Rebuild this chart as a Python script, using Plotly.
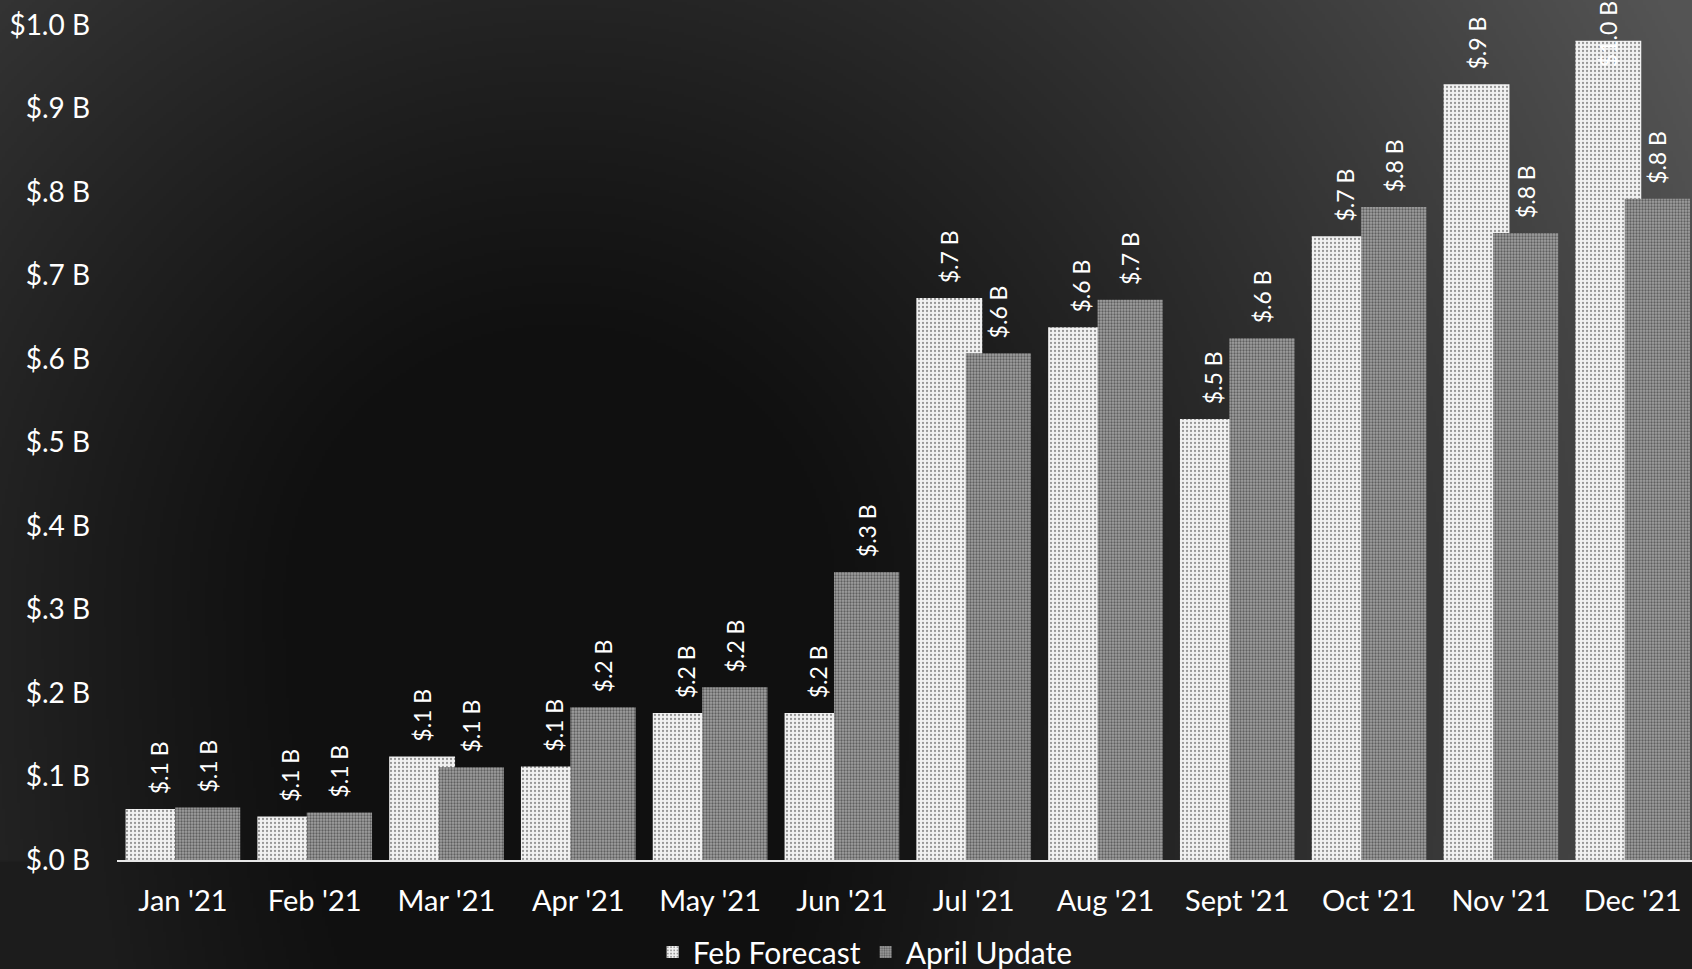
import base64
import struct
import zlib

import numpy as np
import plotly.graph_objects as go

# ---- data (billions of dollars) ----
months = ["Jan '21", "Feb '21", "Mar '21", "Apr '21", "May '21", "Jun '21",
          "Jul '21", "Aug '21", "Sept '21", "Oct '21", "Nov '21", "Dec '21"]
feb_forecast = [0.061, 0.052, 0.124, 0.112, 0.176, 0.176,
                0.673, 0.638, 0.528, 0.747, 0.929, 0.981]
april_update = [0.063, 0.057, 0.111, 0.183, 0.207, 0.345,
                0.607, 0.671, 0.625, 0.782, 0.751, 0.792]
y_ticks = [0.0, 0.1, 0.2, 0.3, 0.4, 0.5, 0.6, 0.7, 0.8, 0.9, 1.0]

W, H = 1692, 969
L, R, T, B = 117, 0, 25, 109
FONT = "Century Gothic, Lato, sans-serif"
PAD = "\u00a0\u00a0"  # lifts the rotated value labels off the bar tops

FEB_OFFSET, FEB_WIDTH = -0.435, 0.5
APR_OFFSET, APR_WIDTH = -0.06, 0.495


def money(v):
    s = f"{v:.1f}"
    if s.startswith("0"):
        s = s[1:]
    return f"${s} B"


def gray_png(arr):
    """Encode a 2-D uint8 array as a grayscale PNG data URI."""
    h, w = arr.shape
    raw = b"".join(b"\x00" + arr[i].tobytes() for i in range(h))

    def chunk(tag, data):
        c = struct.pack(">I", len(data)) + tag + data
        return c + struct.pack(">I", zlib.crc32(tag + data) & 0xFFFFFFFF)

    png = b"\x89PNG\r\n\x1a\n"
    png += chunk(b"IHDR", struct.pack(">IIBBBBB", w, h, 8, 0, 0, 0, 0))
    png += chunk(b"IDAT", zlib.compress(raw, 9))
    png += chunk(b"IEND", b"")
    return "data:image/png;base64," + base64.b64encode(png).decode()


# dark backdrop, brightening away from a dark pool left of centre
sc = 3
gw, gh = W // sc + 1, H // sc + 1
yy, xx = np.mgrid[0:gh, 0:gw].astype(float) * sc
dy = np.where(yy > 600, (yy - 600) * 0.45, yy - 600)
d = np.sqrt((xx - 560) ** 2 + dy ** 2)
lum = 16 + 68 * np.clip((d - 250) / 1000, 0, 1) ** 1.15
lum = np.where(yy > 862, np.minimum(lum, 28), lum)
bg = gray_png(np.clip(lum, 0, 255).astype(np.uint8))

# the last Feb label sits against the top edge, partly over its own bar
feb_text = [PAD + money(v) for v in feb_forecast[:-1]] + [""]

fig = go.Figure()
fig.add_trace(go.Bar(
    name="Feb Forecast", x=months, y=feb_forecast,
    offset=FEB_OFFSET, width=FEB_WIDTH,
    marker=dict(color="#ececec", line=dict(width=0),
                pattern=dict(shape=".", fgcolor="#3a3a3a", bgcolor="#f2f2f2",
                             size=4, solidity=0.25)),
    text=feb_text, textposition="outside",
    textangle=-90, cliponaxis=False,
    textfont=dict(family=FONT, size=23, color="white"),
))
fig.add_trace(go.Bar(
    name="April Update", x=months, y=april_update,
    offset=APR_OFFSET, width=APR_WIDTH,
    marker=dict(color="#8a8a8a", line=dict(width=0),
                pattern=dict(shape=".", fgcolor="#1e1e1e", bgcolor="#a0a0a0",
                             size=3, solidity=0.45)),
    text=[PAD + money(v) for v in april_update], textposition="outside",
    textangle=-90, cliponaxis=False,
    textfont=dict(family=FONT, size=23, color="white"),
))

fig.add_annotation(
    x=len(months) - 1 + FEB_OFFSET + FEB_WIDTH / 2, y=feb_forecast[-1],
    xref="x", yref="y", text=money(feb_forecast[-1]), textangle=-90,
    showarrow=False, yanchor="middle", yshift=7,
    font=dict(family=FONT, size=23, color="white"),
)

fig.update_layout(
    width=W, height=H,
    margin=dict(l=L, r=R, t=T, b=B, autoexpand=False),
    barmode="overlay",
    paper_bgcolor="#000000",
    plot_bgcolor="rgba(0,0,0,0)",
    font=dict(family=FONT, color="white"),
    images=[dict(
        source=bg, xref="paper", yref="paper",
        x=-L / (W - L - R), y=1 + T / (H - T - B),
        sizex=W / (W - L - R), sizey=H / (H - T - B),
        xanchor="left", yanchor="top", sizing="stretch", layer="below",
    )],
    xaxis=dict(
        range=[-0.5, 11.45], showgrid=False, zeroline=False,
        showline=True, linecolor="#e8e8e8", linewidth=2,
        ticks="", ticklabelstandoff=14,
        tickfont=dict(family=FONT, size=29, color="white"),
    ),
    yaxis=dict(
        range=[0, 1.0], showgrid=False, zeroline=False, showline=False,
        tickmode="array", tickvals=y_ticks,
        ticktext=[money(v) for v in y_ticks],
        ticks="", ticklabelstandoff=26,
        tickfont=dict(family=FONT, size=28, color="white"),
    ),
    legend=dict(
        orientation="h", x=0.475, xanchor="center",
        y=-(952 - 860) / (H - T - B), yanchor="middle",
        font=dict(family=FONT, size=30, color="white"),
        bgcolor="rgba(0,0,0,0)", itemwidth=30,
    ),
    showlegend=True,
)

fig.write_html("out.html")
